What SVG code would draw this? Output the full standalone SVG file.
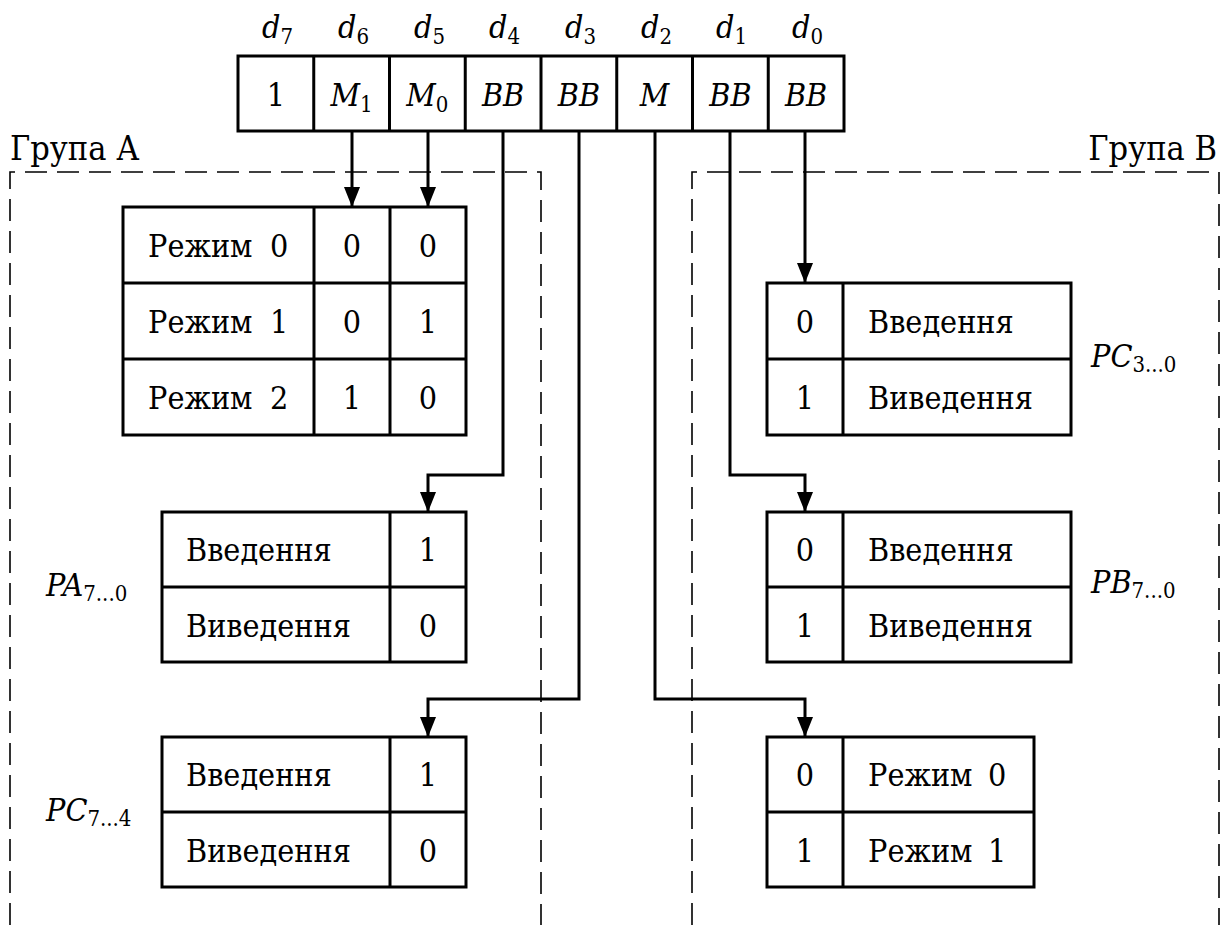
<svg xmlns="http://www.w3.org/2000/svg" width="1224" height="925" viewBox="0 0 1224 925">
<style>
text{font-family:'DejaVu Serif Condensed','DejaVu Serif',serif;font-stretch:condensed;fill:#000}
.t{font-size:32px}
.g{font-size:34px}
.d{font-size:32px;font-style:italic}
.i{font-style:italic}
.s{font-size:22px;font-style:normal}
.box{fill:none;stroke:#000;stroke-width:3}
.ln{fill:none;stroke:#000;stroke-width:3}
.dash{fill:none;stroke:#000;stroke-width:1.6;stroke-dasharray:22,10}
.con{fill:none;stroke:#000;stroke-width:3;marker-end:url(#ah)}
</style>
<defs>
<marker id="ah" markerWidth="20" markerHeight="16" refX="20" refY="8" orient="auto" markerUnits="userSpaceOnUse" viewBox="0 0 20 16">
<path d="M0,0 L20,8 L0,16 Z" fill="#000"/>
</marker>
</defs>
<rect width="1224" height="925" fill="#fff"/>
<g id="groupA">
<path class="dash" d="M10,925 V172 H541 V925"/>
<text class="g" x="10" y="160">Група А</text>
</g>
<g id="groupB">
<path class="dash" d="M692,925 V172 H1219 V925"/>
<text class="g" x="1217" y="160" text-anchor="end">Група В</text>
</g>
<g id="register">
<rect class="box" x="238" y="56" width="606" height="75"/>
<path class="ln" d="M313.75,56V131M389.5,56V131M465.25,56V131M541,56V131M616.75,56V131M692.5,56V131M768.25,56V131"/>
<g class="d">
<text x="262" y="38">d<tspan class="s" dy="6">7</tspan></text>
<text x="338" y="38">d<tspan class="s" dy="6">6</tspan></text>
<text x="414" y="38">d<tspan class="s" dy="6">5</tspan></text>
<text x="489" y="38">d<tspan class="s" dy="6">4</tspan></text>
<text x="565" y="38">d<tspan class="s" dy="6">3</tspan></text>
<text x="641" y="38">d<tspan class="s" dy="6">2</tspan></text>
<text x="716" y="38">d<tspan class="s" dy="6">1</tspan></text>
<text x="792" y="38">d<tspan class="s" dy="6">0</tspan></text>
</g>
<text class="t" x="275.9" y="106" text-anchor="middle">1</text>
<text class="t i" x="351.6" y="106" text-anchor="middle">M<tspan class="s" dy="6">1</tspan></text>
<text class="t i" x="427.4" y="106" text-anchor="middle">M<tspan class="s" dy="6">0</tspan></text>
<text class="t i" x="503.1" y="106" text-anchor="middle">BB</text>
<text class="t i" x="578.9" y="106" text-anchor="middle">BB</text>
<text class="t i" x="654.6" y="106" text-anchor="middle">M</text>
<text class="t i" x="730.4" y="106" text-anchor="middle">BB</text>
<text class="t i" x="806.1" y="106" text-anchor="middle">BB</text>
</g>
<g id="modeA">
<rect class="box" x="123" y="207" width="343" height="228"/>
<path class="ln" d="M314,207V435M390,207V435M123,283H466M123,359H466"/>
<text class="t" x="148" y="257">Режим<tspan x="270">0</tspan></text>
<text class="t" x="148" y="333">Режим<tspan x="270">1</tspan></text>
<text class="t" x="148" y="409">Режим<tspan x="270">2</tspan></text>
<text class="t" x="352" y="257" text-anchor="middle">0</text>
<text class="t" x="352" y="333" text-anchor="middle">0</text>
<text class="t" x="352" y="409" text-anchor="middle">1</text>
<text class="t" x="428" y="257" text-anchor="middle">0</text>
<text class="t" x="428" y="333" text-anchor="middle">1</text>
<text class="t" x="428" y="409" text-anchor="middle">0</text>
</g>
<g id="PA">
<rect class="box" x="162" y="512" width="304" height="150"/>
<path class="ln" d="M390,512V662M162,587H466"/>
<text class="t" x="186" y="561">Введення</text>
<text class="t" x="186" y="637">Виведення</text>
<text class="t" x="428" y="561" text-anchor="middle">1</text>
<text class="t" x="428" y="637" text-anchor="middle">0</text>
<text class="t i" x="46" y="596">PA<tspan class="s" dy="5">7...0</tspan></text>
</g>
<g id="PCH">
<rect class="box" x="162" y="737" width="304" height="150"/>
<path class="ln" d="M390,737V887M162,812H466"/>
<text class="t" x="186" y="786">Введення</text>
<text class="t" x="186" y="862">Виведення</text>
<text class="t" x="428" y="786" text-anchor="middle">1</text>
<text class="t" x="428" y="862" text-anchor="middle">0</text>
<text class="t i" x="46" y="821">PC<tspan class="s" dy="5">7...4</tspan></text>
</g>
<g id="PCL">
<rect class="box" x="767" y="283" width="304" height="152"/>
<path class="ln" d="M843,283V435M767,359H1071"/>
<text class="t" x="805" y="333" text-anchor="middle">0</text>
<text class="t" x="805" y="409" text-anchor="middle">1</text>
<text class="t" x="868" y="333">Введення</text>
<text class="t" x="868" y="409">Виведення</text>
<text class="t i" x="1091" y="367">PC<tspan class="s" dy="5">3...0</tspan></text>
</g>
<g id="PB">
<rect class="box" x="767" y="512" width="304" height="150"/>
<path class="ln" d="M843,512V662M767,587H1071"/>
<text class="t" x="805" y="561" text-anchor="middle">0</text>
<text class="t" x="805" y="637" text-anchor="middle">1</text>
<text class="t" x="868" y="561">Введення</text>
<text class="t" x="868" y="637">Виведення</text>
<text class="t i" x="1091" y="593">PB<tspan class="s" dy="5">7...0</tspan></text>
</g>
<g id="modeB">
<rect class="box" x="767" y="737" width="267" height="150"/>
<path class="ln" d="M843,737V887M767,812H1034"/>
<text class="t" x="805" y="786" text-anchor="middle">0</text>
<text class="t" x="805" y="862" text-anchor="middle">1</text>
<text class="t" x="868" y="786">Режим<tspan x="988">0</tspan></text>
<text class="t" x="868" y="862">Режим<tspan x="988">1</tspan></text>
</g>
<g id="connectors">
<path class="con" d="M352,131V207"/>
<path class="con" d="M428,131V207"/>
<path class="con" d="M503,131V475H428V512"/>
<path class="con" d="M579,131V699H428V737"/>
<path class="con" d="M655,131V699H805V737"/>
<path class="con" d="M730,131V475H805V512"/>
<path class="con" d="M805,131V283"/>
</g>
</svg>
